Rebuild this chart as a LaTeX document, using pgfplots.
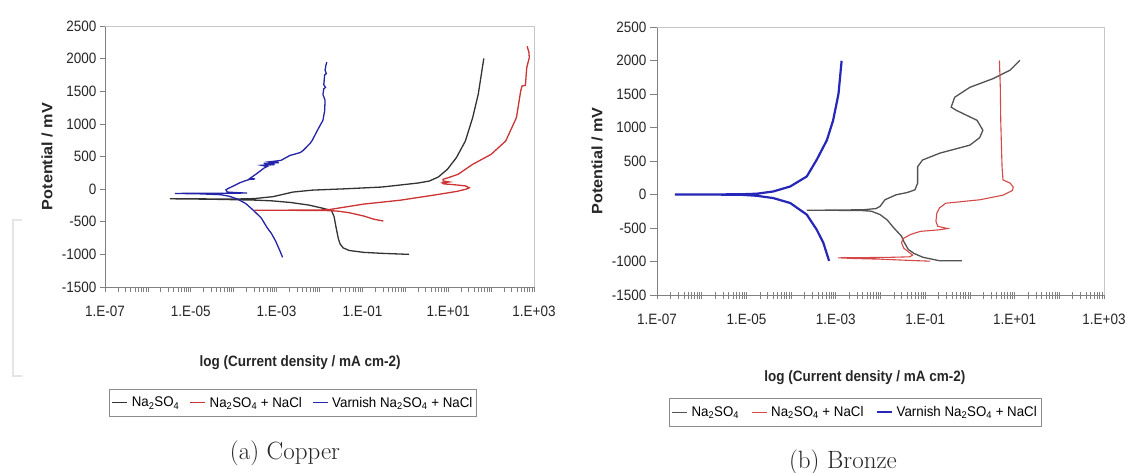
\documentclass[border=0pt]{standalone}
\usepackage{fontspec}
\usepackage{pgfplots}
\usepackage{pgfplotstable}
\pgfplotsset{compat=1.18}
\newfontfamily\arialT[FakeStretch=0.9]{Liberation Sans}
\newfontfamily\arialY[FakeStretch=1.08]{Liberation Sans}
\newfontfamily\arialL[FakeStretch=0.95]{Liberation Sans}
\newcommand\ticksf{\arialT\fontsize{15}{16}\selectfont}
\newcommand\xlabf{\arialT\bfseries\fontsize{15}{16}\selectfont}
\newcommand\ylabf{\arialY\bfseries\fontsize{15}{16}\selectfont}
\newcommand\legf{\arialL\fontsize{14}{16}\selectfont}
\definecolor{cblack}{HTML}{333333}
\definecolor{cred}{HTML}{CC3333}
\definecolor{cblue}{HTML}{2424A8}
\definecolor{rred}{HTML}{D44848}
\definecolor{rblue}{HTML}{2626B8}
\def\minorlist{}
\foreach \k in {-7,...,2}{%
  \foreach \m in {0.30103,0.47712,0.60206,0.69897,0.77815,0.84510,0.90309,0.95424}{%
    \pgfmathsetmacro\v{\k+\m}%
    \xdef\minorlist{\minorlist\v,}%
  }%
}
\xdef\minorlist{\minorlist -6,-4,-2,0,2}

% ---------- Copper ----------
\pgfplotstableread{
x y
0.09 -1000
-0.55 -984
-0.97 -969
-1.31 -940
-1.45 -900
-1.52 -840
-1.56 -760
-1.61 -600
-1.66 -420
-1.72 -330
-1.91 -295
-2.25 -244
-2.67 -205
-3.10 -180
-3.52 -168
-4.50 -155
-5.49 -148
-4.50 -150
-3.85 -150
-3.52 -145
-3.08 -115
-2.62 -45
-2.16 -15
-1.40 5
-0.55 32
-0.12 63
0.30 94
0.56 124
0.77 186
0.98 303
1.19 482
1.40 737
1.57 1095
1.70 1453
1.83 2004
}\CuBlack
\pgfplotstableread{
x y
-0.51 -489
-0.72 -463
-0.97 -412
-1.31 -361
-1.60 -335
-1.90 -327
-2.60 -325
-3.52 -323
-2.60 -322
-1.90 -318
-1.74 -310
-0.98 -230
-0.12 -170
0.73 -85
1.20 -35
1.42 0
1.49 20
1.40 50
1.10 70
0.90 80
0.86 95
1.02 110
0.88 125
0.88 150
1.00 175
1.23 227
1.57 380
2.00 533
2.34 737
2.59 1095
2.69 1504
2.72 1580
2.80 1590
2.83 1861
2.89 2015
2.88 2100
2.84 2190
}\CuRed
\pgfplotstableread{
x y
-2.86 -1045
-2.92 -950
-3.02 -800
-3.12 -680
-3.22 -591
-3.36 -440
-3.55 -320
-3.72 -220
-3.92 -150
-4.10 -110
-4.30 -85
-4.80 -72
-5.37 -66
-4.80 -64
-4.20 -63
-3.69 -60
-3.90 -55
-4.15 -45
-4.18 -10
-4.13 10
-4.00 50
-3.85 100
-3.70 135
-3.62 150
-3.50 155
-3.62 165
-3.46 239
-3.30 320
-3.22 347
-3.35 365
-3.05 375
-3.30 395
-2.95 405
-3.15 420
-2.90 440
-2.69 516
-2.45 560
-2.38 593
-2.22 700
-2.17 747
-2.05 900
-1.92 1055
-1.88 1200
-1.87 1362
-1.92 1450
-1.90 1537
-1.86 1560
-1.90 1600
-1.88 1750
-1.84 1770
-1.87 1823
-1.85 1900
-1.83 1946
}\CuBlue
% ---------- Bronze ----------
\pgfplotstableread{
x y
-0.18 -990
-0.67 -990
-1.05 -937
-1.25 -880
-1.38 -819
-1.48 -700
-1.53 -622
-1.71 -493
-1.85 -380
-2.01 -300
-2.20 -250
-2.39 -240
-3.00 -236
-3.65 -236
-3.00 -232
-2.39 -228
-2.10 -210
-2.01 -177
-1.90 -78
-1.65 -4
-1.40 30
-1.23 70
-1.17 170
-1.17 415
-1.06 515
-0.67 618
0.00 737
0.22 850
0.29 959
0.16 1107
-0.30 1255
-0.42 1304
-0.34 1452
0.00 1600
0.52 1730
0.90 1856
1.12 2004
}\BrBlack
\pgfplotstableread{
x y
-0.89 -995
-1.30 -985
-2.00 -965
-2.60 -955
-2.95 -945
-2.40 -942
-1.80 -938
-1.35 -930
-1.28 -905
-1.35 -870
-1.48 -800
-1.53 -720
-1.50 -660
-1.33 -597
-1.11 -550
-0.70 -528
-0.50 -508
-0.72 -474
-0.76 -400
-0.74 -280
-0.68 -200
-0.54 -130
0.23 -78
0.74 -10
0.95 60
0.97 110
0.90 170
0.74 218
0.72 400
0.71 613
0.69 1100
0.68 1600
0.66 2000
}\BrRed
\pgfplotstableread{
x y
-3.15 -991
-3.28 -719
-3.43 -522
-3.65 -300
-4.02 -127
-4.40 -53
-4.77 -19
-5.14 -3
-6.60 0
-5.14 3
-4.77 12
-4.40 45
-4.02 120
-3.65 269
-3.43 515
-3.20 811
-3.06 1107
-2.94 1502
-2.87 1996
}\BrBlue

\pgfplotsset{
  mystyle/.style={
    scale only axis,
    xmin=-7, xmax=3, ymin=-1500, ymax=2500,
    axis x line*=bottom, axis y line*=left,
    axis line style={draw=black!50, line width=0.8pt},
    xtick={-7,-5,-3,-1,1,3},
    xticklabels={1.E-07,1.E-05,1.E-03,1.E-01,1.E+01,1.E+03},
    minor xtick/.expand once={\minorlist},
    ytick={-1500,-1000,-500,0,500,1000,1500,2000,2500},
    yticklabels={-1500,-1000,-500,0,500,1000,1500,2000,2500},
    major tick length=5pt, minor tick length=5pt,
    every tick/.style={draw=black!50, line width=0.7pt},
    minor tick style={draw=black!50, line width=0.7pt},
    tick label style={font=\ticksf, text=black!85},
    xlabel={log (Current density / mA cm-2)},
    ylabel={Potential / mV},
    xlabel style={font=\xlabf, text=black!85, anchor=center},
    ylabel style={font=\ylabf, text=black!85, anchor=center},
    legend columns=-1,
    legend style={draw=black!45, font=\legf, anchor=north, inner xsep=2pt, inner ysep=6pt,
      /tikz/every odd column/.append style={column sep=2pt}},
    legend cell align=left,
    clip=false,
    after end axis/.code={\draw[black!22, line width=0.8pt] (rel axis cs:0,1) -- (rel axis cs:1,1) -- (rel axis cs:1,0);},
  }
}

\begin{document}
\begin{tikzpicture}
\useasboundingbox (0pt,0pt) rectangle (1140pt,-472pt);
\fill[white] (0pt,0pt) rectangle (1140pt,-472pt);
\draw[black!10, line width=1.2pt] (22pt,-220pt) -- (13pt,-220pt) -- (13pt,-376pt) -- (22pt,-376pt);

\begin{axis}[mystyle,
  at={(105pt,-26pt)}, anchor=north west, width=429pt, height=261pt,
  tick align=outside,
  xticklabel style={yshift=-10pt},
  xlabel style={at={(axis description cs:0.455,-0.29)}},
  ylabel style={at={(axis description cs:-0.135,0.5)}},
  legend style={at={(axis description cs:0.438,-0.39)},
    /tikz/every even column/.append style={column sep=8pt}},
  legend image code/.code={\draw[#1] (0pt,0pt) -- (15pt,0pt);},
]
\addplot[cblack, line width=1.3pt] table {\CuBlack};
\addlegendentry{Na\textsubscript{2}SO\textsubscript{4}}
\addplot[cred, line width=1.3pt] table {\CuRed};
\addlegendentry{Na\textsubscript{2}SO\textsubscript{4} + NaCl}
\addplot[cblue, line width=1.3pt] table {\CuBlue};
\addlegendentry{Varnish Na\textsubscript{2}SO\textsubscript{4} + NaCl}
\end{axis}

\begin{axis}[mystyle,
  at={(657pt,-27pt)}, anchor=north west, width=447pt, height=268pt,
  xtick align=center, ytick align=outside,
  major tick length=7pt, minor tick length=7pt,
  xticklabel style={yshift=-12pt},
  xlabel style={at={(axis description cs:0.465,-0.31)}},
  ylabel style={at={(axis description cs:-0.134,0.5)}},
  legend style={at={(axis description cs:0.443,-0.385)},
    /tikz/every even column/.append style={column sep=10pt}},
  legend image code/.code={\draw[#1] (0pt,0pt) -- (15pt,0pt);},
]
\addplot[cblack!85, line width=1.3pt] table {\BrBlack};
\addlegendentry{Na\textsubscript{2}SO\textsubscript{4}}
\addplot[rred, line width=1.1pt] table {\BrRed};
\addlegendentry{Na\textsubscript{2}SO\textsubscript{4} + NaCl}
\addplot[rblue, line width=2.2pt] table {\BrBlue};
\addlegendentry{Varnish Na\textsubscript{2}SO\textsubscript{4} + NaCl}
\end{axis}

\node[font=\fontsize{25}{28}\selectfont, text=black!85] at (285pt,-453pt) {(a) Copper};
\node[font=\fontsize{25}{28}\selectfont, text=black!85] at (843pt,-462pt) {(b) Bronze};
\end{tikzpicture}
\end{document}
